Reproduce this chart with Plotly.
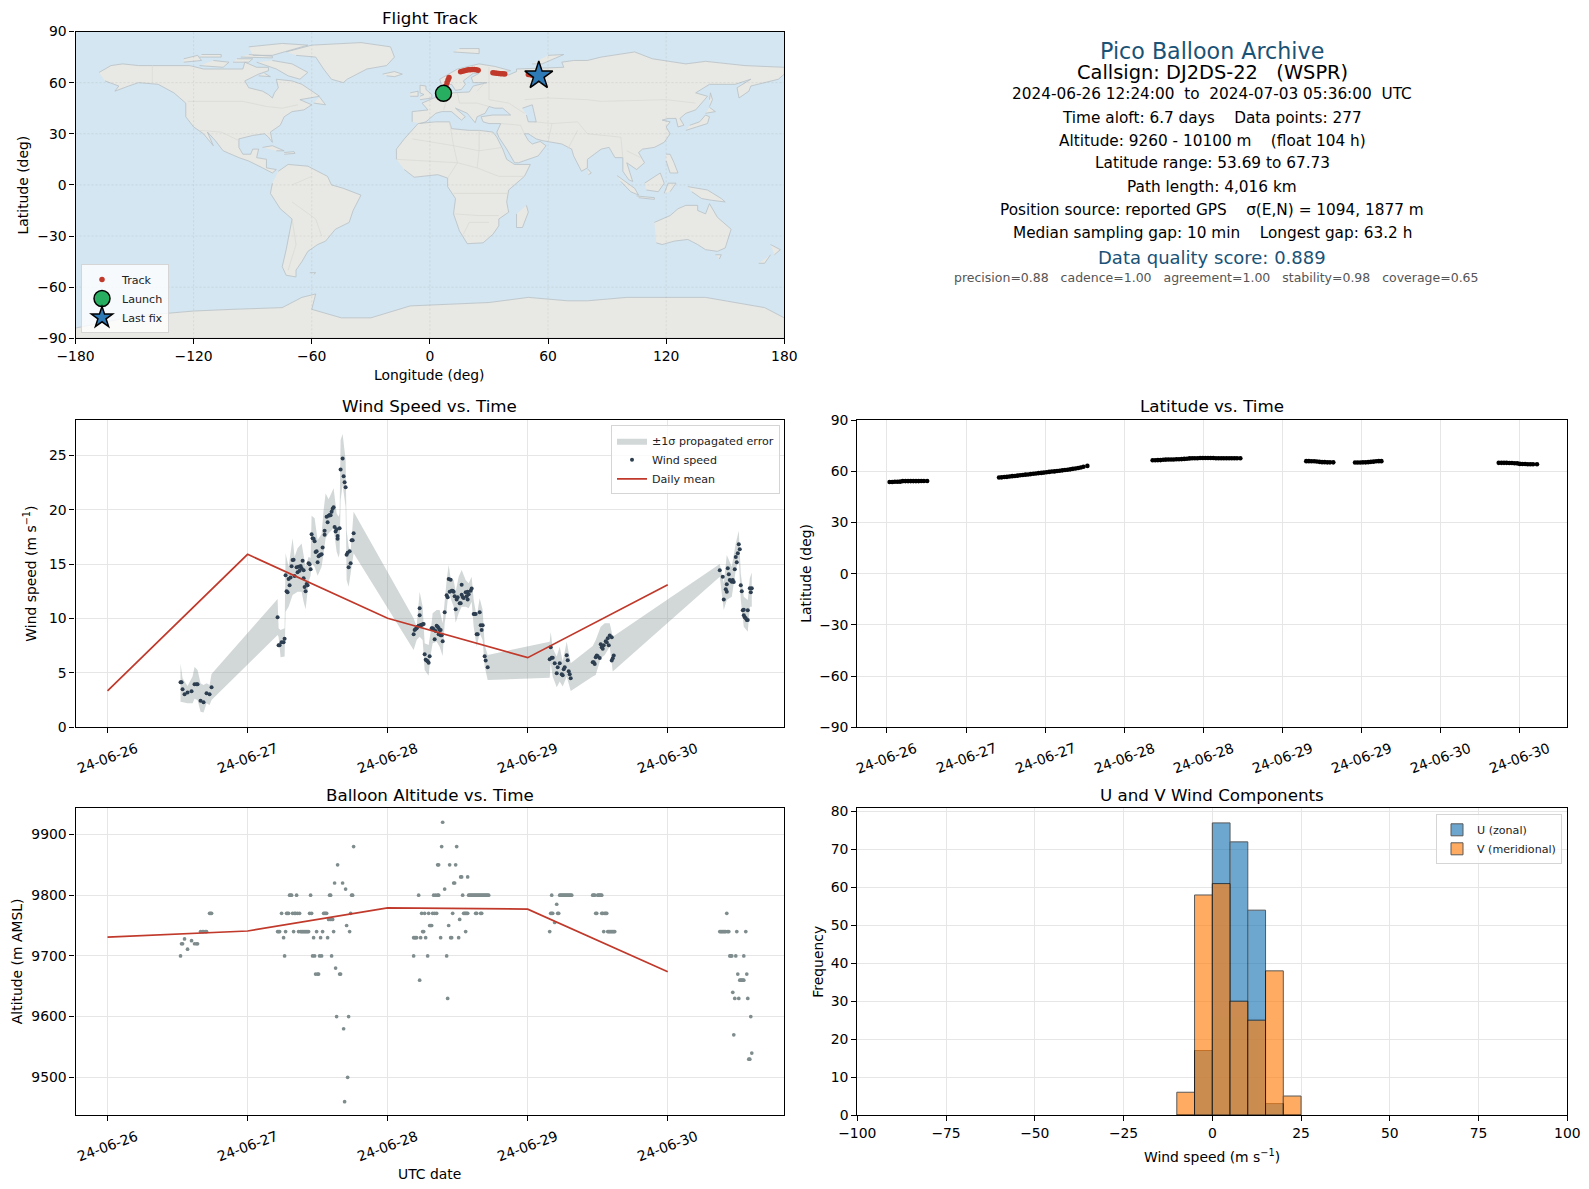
import plotly.graph_objects as go

# the page keeps the browser's 8 px body margin, so the figure is 16 px smaller than the window
PAGE_MARGIN = 8
FIG_W = 1589 - 2 * PAGE_MARGIN
FIG_H = 1189 - 2 * PAGE_MARGIN

# tick labels, the time panels are plotted against sample index / hours
wind_tick_n = [0, 140, 280, 420, 560]
wind_tick_labels = ["24-06-26", "24-06-27", "24-06-28", "24-06-29", "24-06-30"]
lat_tick_h = [0, 12, 24, 36, 48, 60, 72, 84, 96]
lat_tick_labels = ["24-06-26", "24-06-27", "24-06-27", "24-06-28", "24-06-28",
                   "24-06-29", "24-06-29", "24-06-30", "24-06-30"]

wind_n = [73, 74, 75, 77, 80, 84, 87, 89, 90, 93, 96, 99, 102, 104,
          170, 171, 172, 174, 176, 177, 178, 179, 180, 181, 182, 183, 184, 185, 186, 187, 189, 190, 191, 192,
          193, 194, 195, 196, 196, 197, 198, 199, 200, 201, 202, 203, 204, 205, 206, 207, 208, 209, 210, 211,
          212, 213, 214, 215, 217, 217, 219, 220, 221, 222, 223, 224, 225, 226, 227, 228, 229, 230, 230, 232,
          233, 235, 236, 237, 238, 239, 240, 241, 242, 243, 244, 245, 246,
          306, 307, 308, 309, 310, 311, 312, 312, 313, 314, 315, 316, 317, 318, 319, 320, 321, 322, 324, 325,
          326, 327, 328, 329, 330, 331, 331, 332, 333, 333, 334, 335, 337, 339, 340, 341, 342, 343, 344, 345,
          346, 347, 348, 349, 350, 352, 353, 354, 354, 355, 356, 358, 359, 360, 360, 361, 363, 364, 366, 367,
          368, 369, 370, 372, 373, 374, 375, 377, 378, 380,
          442, 443, 444, 445, 447, 449, 450, 452, 454, 455, 456, 457, 459, 460, 461, 462, 463,
          485, 486, 487, 488, 489, 490, 492, 493, 494, 495, 496, 498, 499, 500, 501, 502, 504, 504, 505, 506,
          612, 615, 616, 618, 619, 619, 620, 621, 622, 623, 624, 625, 626, 627, 628, 629, 630, 631, 632, 633,
          634, 635, 636, 636, 637, 638, 639, 640, 640, 642, 643, 644]
wind_speed = [4.14, 4.14, 3.49, 3.03, 3.19, 3.31, 3.95, 3.95, 3.95, 2.45, 2.30, 3.13, 3.03, 3.68,
              10.11, 7.54, 7.54, 7.81, 7.81, 8.15, 13.97, 12.5, 12.41, 13.63, 13.05, 13.76, 14.8, 15.38, 15.41,
              13.91, 14.71, 14.25, 14.77, 14.4, 14.83, 14.61, 15.32, 13.7, 14.43, 12.9, 12.5, 13.17, 13.05, 15.07,
              14.98, 14.52, 17.74, 17.37, 17.34, 17.1, 16.12, 16.18, 15.17, 15.72, 15.81, 15.87, 15.9, 16.54,
              18.08, 17.71, 19.36, 18.84, 19.45, 19.52, 19.49, 19.82, 20.1, 20.22, 18.41, 18.01, 18.2, 17.59,
              17.34, 18.29, 23.71, 24.72, 23.07, 22.52, 22.06, 15.87, 16.05, 14.71, 16.18, 15.07, 17.19, 17.19, 17.83,
              8.55, 8.95, 9.04, 9.1, 9.25, 9.34, 10.29, 10.94, 9.41, 9.41, 9.47, 9.5, 6.71, 6.22, 6.13, 6.07, 5.94,
              6.53, 9.1, 9.1, 9.01, 8.09, 8.85, 9.34, 9.25, 9.13, 8.55, 8.95, 8.95, 8.46, 8.46, 7.9, 10.57, 12.13,
              11.95, 13.63, 12.47, 13.57, 12.56, 12.56, 12.47, 12.04, 10.85, 11.76, 11.95, 11.4, 11.4, 13.11, 12.19,
              11.98, 11.89, 12.41, 12.04, 11.76, 12.47, 12.22, 12.56, 12.75, 10.42, 10.42, 10.42, 8.55, 8.55, 10.57,
              9.38, 8.95, 9.38, 6.53, 6.13, 5.51,
              6.25, 7.35, 6.4, 6.4, 5.88, 4.96, 5.51, 5.88, 4.87, 4.78, 5.33, 5.51, 6.62, 6.16, 5.15, 4.87, 4.5,
              5.97, 5.97, 5.82, 6.43, 6.59, 6.53, 6.37, 7.63, 7.35, 7.23, 7.54, 7.9, 7.81, 8.18, 7.54, 8.43, 8.27,
              6.13, 6.34, 6.59,
              14.43, 13.85, 11.76, 12.68, 12.47, 13.14, 14.61, 14.06, 13.54, 13.48, 13.39, 13.54, 13.36, 14.52, 15.66,
              15.17, 15.99, 16.82, 16.36, 13.05, 12.5, 10.75, 10.81, 10.29, 10.11, 10.02, 9.87, 10.75, 9.87, 12.78,
              12.41, 12.78]

band_n = [73, 75, 80, 85, 87, 90, 93, 96, 99, 102, 104,
          170, 171, 173, 177, 178, 181, 185, 187, 190, 194, 196, 198, 201, 203, 204, 207, 210, 214, 216, 218, 221,
          226, 229, 231, 232, 233, 235, 238, 239, 241, 243, 246,
          306, 309, 312, 315, 317, 321, 323, 325, 329, 332, 335, 337, 339, 341, 343, 346, 348, 351, 354, 358, 361,
          364, 366, 369, 372, 375, 377, 380,
          442, 443, 445, 449, 452, 455, 459, 463,
          485, 488, 493, 497, 502, 505,
          612, 616, 619, 624, 628, 631, 633, 636, 640, 642, 644]
band_hi = [5.88, 4.5, 3.8, 4.66, 5.55, 5.27, 4.04, 3.89, 4.04, 3.89, 4.9,
           11.8, 9.1, 8.95, 9.1, 16.0, 14.77, 17.37, 15.69, 16.45, 16.9, 15.84, 14.77, 15.69, 15.53, 19.45, 19.21,
           17.22, 17.77, 19.98, 21.5, 20.96, 21.97, 19.67, 19.36, 19.67, 26.41, 26.96, 24.57, 18.14, 16.6, 16.15, 19.82,
           10.02, 9.25, 12.47, 11.09, 7.72, 7.57, 8.79, 10.48, 10.78, 10.78, 9.56, 11.7, 13.54, 14.92, 13.7, 13.54,
           12.47, 13.85, 14.46, 13.54, 13.24, 13.85, 11.7, 10.17, 11.86, 10.78, 7.57, 6.65,
           7.87, 8.79, 7.26, 6.5, 7.41, 6.04, 7.87, 5.88,
           7.48, 8.03, 9.25, 9.56, 9.56, 8.33,
           15.01, 13.24, 15.84, 14.77, 16.91, 18.08, 14.15, 12.0, 11.7, 13.7, 14.22]
band_lo = [2.36, 2.27, 2.2, 2.2, 2.63, 2.5, 1.44, 1.35, 2.2, 2.05, 2.5,
           8.49, 8.33, 6.43, 6.5, 10.63, 11.09, 12.16, 12.32, 12.47, 12.47, 11.55, 10.85, 13.39, 13.94, 15.07, 14.77,
           13.94, 14.77, 16.0, 17.37, 17.83, 18.29, 16.15, 15.6, 16.0, 20.89, 22.27, 20.28, 13.54, 12.93, 14.15, 16.0,
           7.11, 8.03, 8.33, 8.03, 5.27, 4.75, 6.65, 7.72, 7.87, 7.41, 6.56, 9.56, 10.78, 12.62, 11.86, 11.09, 9.62,
           10.48, 11.09, 11.09, 10.94, 11.55, 9.25, 7.41, 8.64, 8.03, 5.58, 4.35,
           4.56, 5.88, 4.66, 3.68, 4.2, 3.74, 4.66, 3.34,
           4.66, 4.81, 6.34, 6.65, 7.41, 5.12,
           13.85, 10.78, 11.7, 12.0, 14.46, 15.53, 11.7, 9.25, 8.79, 11.09, 11.09]

daily_wind = [3.35, 15.9, 10.02, 6.4, 13.11]
daily_alt = [9731, 9741, 9779, 9777, 9674]

alt_n = [73, 74, 75, 77, 80, 84, 87, 89, 90, 93, 95, 96, 98, 99, 102, 103, 104,
         170, 171, 172, 174, 176, 177, 178, 179, 180, 181, 182, 183, 184, 185, 186, 187, 188, 189, 190, 191, 192,
         193, 194, 195, 196, 197, 198, 199, 200, 201, 202, 203, 204, 205, 206, 207, 208, 209, 210, 211, 212, 213,
         214, 215, 216, 217, 218, 219, 220, 221, 222, 223, 223, 224, 225, 226, 227, 228, 229, 230, 232, 233, 235,
         236, 237, 238, 239, 240, 241, 242, 243, 244, 245, 246,
         306, 306, 307, 308, 309, 311, 312, 313, 314, 315, 316, 317, 318, 320, 321, 322, 323, 324, 325, 326, 327,
         328, 329, 330, 330, 331, 331, 333, 334, 335, 337, 339, 340, 341, 342, 343, 344, 345, 346, 347, 348, 349,
         351, 352, 353, 354, 355, 356, 357, 358, 358, 359, 360, 360, 361, 362, 363, 364, 365, 366, 367, 368, 369,
         370, 371, 372, 373, 374, 375, 376, 377, 378, 379, 380, 381, 368, 369, 373, 374,
         442, 443, 444, 444, 445, 447, 449, 450, 451, 452, 453, 454, 455, 456, 457, 458, 459, 460, 461, 462, 463, 464,
         485, 486, 487, 488, 489, 490, 491, 492, 493, 494, 494, 495, 496, 497, 498, 499, 500, 501, 502, 503, 504,
         505, 506, 507,
         612, 613, 614, 615, 616, 617, 618, 619, 620, 621, 622, 623, 624, 625, 626, 627, 628, 629, 630, 631, 632,
         633, 634, 635, 636, 636, 638, 639, 640, 641, 642, 643, 644]
alt_m = [9700, 9720, 9720, 9728, 9711, 9725, 9720, 9720, 9720, 9740, 9740, 9740, 9740, 9740, 9770, 9770, 9770,
         9740, 9740, 9740, 9770, 9730, 9700, 9740, 9770, 9770, 9770, 9800, 9800, 9800, 9770, 9740, 9770, 9770, 9800,
         9770, 9740, 9770, 9740, 9740, 9740, 9740, 9740, 9740, 9740, 9740, 9740, 9770, 9800, 9770, 9700, 9730, 9700,
         9670, 9740, 9670, 9670, 9700, 9730, 9700, 9740, 9770, 9770, 9770, 9770, 9730, 9760, 9800, 9800, 9760, 9700,
         9760, 9740, 9820, 9680, 9600, 9850, 9670, 9670, 9820, 9580, 9460, 9810, 9750, 9500, 9600, 9740, 9770, 9800,
         9800, 9880,
         9700, 9730, 9730, 9730, 9730, 9800, 9660, 9730, 9770, 9740, 9740, 9770, 9730, 9700, 9770, 9750, 9750, 9750,
         9770, 9800, 9770, 9800, 9770, 9800, 9850, 9800, 9850, 9730, 9880, 9920, 9810, 9700, 9630, 9750, 9850, 9730,
         9730, 9770, 9820, 9820, 9850, 9880, 9730, 9760, 9830, 9830, 9800, 9770, 9770, 9740, 9770, 9770, 9830, 9770,
         9800, 9800, 9800, 9800, 9800, 9800, 9800, 9800, 9800, 9800, 9800, 9800, 9800, 9800, 9800, 9800, 9800, 9800,
         9800, 9800, 9800, 9770, 9770, 9770, 9770,
         9740, 9770, 9800, 9770, 9770, 9755, 9785, 9770, 9770, 9800, 9800, 9800, 9800, 9800, 9800, 9800, 9800, 9800,
         9800, 9800, 9800, 9800,
         9800, 9800, 9800, 9770, 9770, 9800, 9800, 9800, 9800, 9800, 9770, 9770, 9740, 9770, 9770, 9770, 9740, 9740,
         9740, 9740, 9740, 9740, 9740, 9740,
         9740, 9740, 9740, 9740, 9740, 9740, 9740, 9770, 9740, 9740, 9700, 9700, 9700, 9640, 9570, 9630, 9700, 9740,
         9670, 9630, 9660, 9660, 9660, 9660, 9660, 9700, 9740, 9670, 9630, 9530, 9530, 9600, 9540]

lat_hours = [0.4, 0.8, 1.2, 1.6, 2.0, 2.4, 2.8, 3.2, 3.6, 4.0, 4.4, 4.8, 5.2, 5.6, 6.1,
             17.0, 17.4, 17.8, 18.2, 18.6, 19.0, 19.4, 19.8, 20.2, 20.6, 21.0, 21.4, 21.8, 22.2, 22.6, 23.0, 23.4,
             23.8, 24.2, 24.6, 25.0, 25.4, 25.8, 26.2, 26.6, 27.0, 27.4, 27.8, 28.2, 28.6, 29.0, 29.4, 29.8, 30.4,
             40.3, 40.7, 41.1, 41.5, 41.9, 42.3, 42.7, 43.1, 43.5, 43.9, 44.3, 44.7, 45.1, 45.5, 45.9, 46.3, 46.7,
             47.1, 47.5, 47.9, 48.3, 48.7, 49.1, 49.5, 49.9, 50.3, 50.7, 51.1, 51.5, 51.9, 52.3, 52.7, 53.1, 53.6,
             63.6, 64.0, 64.4, 64.8, 65.2, 65.6, 66.0, 66.4, 66.8, 67.2, 67.7,
             71.0, 71.4, 71.8, 72.2, 72.6, 73.0, 73.4, 73.8, 74.2, 74.6, 75.0,
             92.8, 93.2, 93.6, 94.0, 94.4, 94.8, 95.2, 95.6, 96.0, 96.4, 96.8, 97.2, 97.6, 98.0, 98.6]
lat_deg = [53.7, 53.7, 53.8, 53.8, 53.9, 54.2, 54.2, 54.2, 54.2, 54.2, 54.2, 54.2, 54.3, 54.3, 54.3,
           56.3, 56.4, 56.6, 56.7, 56.9, 57.1, 57.2, 57.4, 57.6, 57.8, 58.0, 58.1, 58.3, 58.5, 58.7, 58.9, 59.0,
           59.2, 59.4, 59.6, 59.8, 59.9, 60.1, 60.3, 60.5, 60.7, 60.9, 61.1, 61.4, 61.6, 61.9, 62.2, 62.6, 63.1,
           66.4, 66.4, 66.5, 66.5, 66.7, 66.8, 66.9, 66.9, 66.9, 67.0, 67.0, 67.1, 67.2, 67.3, 67.5, 67.6, 67.6,
           67.6, 67.7, 67.7, 67.7, 67.7, 67.7, 67.7, 67.6, 67.6, 67.6, 67.6, 67.6, 67.6, 67.6, 67.6, 67.6, 67.6,
           65.9, 65.9, 65.8, 65.8, 65.7, 65.5, 65.3, 65.3, 65.2, 65.2, 65.2,
           65.1, 65.1, 65.1, 65.2, 65.2, 65.3, 65.5, 65.6, 65.8, 65.9, 65.9,
           64.9, 64.9, 64.9, 64.9, 64.8, 64.8, 64.7, 64.6, 64.3, 64.2, 64.2, 64.1, 64.1, 64.1, 64.1]

hist_edges = [-10, -5, 0, 5, 10, 15, 20]
hist_u = [0, 17, 77, 72, 54, 3, 0]
hist_v = [6, 58, 61, 30, 25, 38, 5]

track_lon = [6.9, 7.1, 7.3, 7.8, 8.2, 8.7, 9.2, 9.7,
             15.6, 16.5, 17.5, 18.5, 19.5, 20.5, 21.5, 22.5, 23.5, 24.5,
             32, 33, 34, 35, 36, 37, 38, 50, 51, 52, 53]
track_lat = [53.7, 54.0, 54.3, 56.3, 58.0, 60.0, 61.5, 63.0,
             66.4, 66.7, 67.0, 67.3, 67.5, 67.6, 67.7, 67.7, 67.5, 67.2,
             65.8, 65.6, 65.5, 65.3, 65.2, 65.2, 65.1, 64.8, 64.6, 64.3, 64.0]
launch_lon, launch_lat = [6.9], [53.7]
last_lon, last_lat = [55.3], [64.1]

# rough coastlines (lon, lat)
north_america = [(-168, 66), (-165, 68), (-162, 70), (-156, 71), (-148, 70), (-141, 70), (-128, 70), (-122, 70),
                 (-115, 68), (-108, 68), (-95, 68), (-94, 72), (-88, 69), (-82, 69), (-82, 67), (-87, 65), (-94, 61),
                 (-92, 57), (-85, 55), (-82, 53), (-80, 51), (-79, 54), (-77, 57), (-78, 62), (-70, 61), (-65, 59),
                 (-61, 56), (-56, 52), (-66, 50), (-60, 47), (-64, 44), (-70, 43), (-74, 40), (-76, 35), (-81, 31),
                 (-80, 25), (-82, 28), (-84, 30), (-90, 29), (-97, 27), (-97, 22), (-95, 18), (-91, 18), (-90, 21),
                 (-87, 21), (-88, 16), (-83, 15), (-83, 10), (-78, 9), (-80, 7), (-85, 10), (-92, 14), (-97, 16),
                 (-105, 20), (-109, 26), (-113, 31), (-110, 23), (-115, 30), (-120, 34), (-124, 40), (-124, 48),
                 (-130, 54), (-138, 59), (-148, 60), (-153, 58), (-160, 55), (-158, 58), (-165, 61)]
greenland = [(-73, 78), (-60, 82), (-35, 83.5), (-20, 81), (-18, 75), (-22, 70), (-32, 68), (-42, 62), (-44, 60),
             (-50, 62), (-54, 68), (-58, 75), (-68, 76)]
baffin = [(-80, 73), (-70, 71), (-62, 66), (-66, 62), (-72, 64), (-78, 68), (-88, 72)]
victoria = [(-117, 70), (-105, 69), (-102, 72), (-110, 73)]
ellesmere = [(-90, 76), (-80, 76), (-62, 82), (-75, 83), (-92, 81)]
banks = [(-125, 72), (-116, 73), (-118, 76), (-125, 74)]
melville = [(-117, 75), (-106, 75), (-106, 76.5), (-116, 76.5)]
devon = [(-96, 75), (-80, 74.5), (-80, 75.5), (-92, 76.5)]
somerset = [(-100, 72), (-92, 72), (-90, 74), (-98, 74)]
southampton = [(-87, 64), (-81, 63.5), (-84, 65.5)]
newfoundland = [(-59, 48), (-53, 47), (-56, 51.5)]
cuba = [(-85, 22), (-80, 23), (-74, 20), (-78, 20)]
hispaniola = [(-74, 19), (-69, 19.5), (-68.5, 18.5), (-74, 18)]
iceland = [(-24, 65), (-18, 66.5), (-14, 65), (-18, 63.5), (-22, 64)]
south_america = [(-77, 8), (-72, 12), (-62, 11), (-52, 5), (-50, 0), (-44, -2), (-35, -6), (-39, -15), (-41, -22),
                 (-48, -26), (-53, -33), (-57, -35), (-62, -39), (-65, -45), (-68, -50), (-68, -54), (-73, -53),
                 (-75, -48), (-73, -38), (-70, -20), (-76, -14), (-81, -5), (-80, 1)]
africa = [(-17, 15), (-17, 21), (-13, 27), (-9, 32), (-6, 36), (3, 37), (10, 37), (11, 33), (20, 32), (25, 32),
          (32, 31), (34, 28), (37, 21), (39, 15), (43, 12), (51, 12), (48, 5), (40, -3), (39, -10), (40, -16),
          (35, -20), (35, -24), (32, -29), (27, -34), (19, -34.5), (15, -27), (12, -17), (13, -8), (9, -1), (9, 4),
          (4, 6), (-4, 5), (-8, 4.5), (-13, 9)]
eurasia = [(-9, 37), (-9, 43), (-1, 44), (-4, 48), (2, 51), (8, 54), (8, 57), (11, 56), (11, 54), (20, 54.5),
           (22, 58), (29, 60), (22, 60), (21, 63), (25, 65.5), (22, 65.5), (17, 61), (18, 59), (16, 56), (13, 55.5),
           (11, 59), (6, 58), (5, 62), (14, 68), (25, 71), (33, 69.5), (41, 67), (35, 66), (40, 64.5), (44, 66.5),
           (44, 68), (54, 68.5), (60, 69), (68, 69), (67, 72), (73, 73), (80, 73), (87, 75), (104, 78), (113, 74),
           (130, 71), (140, 72.5), (160, 70), (180, 69), (180, 65), (177, 62), (170, 60), (163, 58), (162, 55),
           (157, 51), (156, 57), (163, 62), (155, 59), (142, 59), (135, 54), (141, 52), (135, 44), (130, 42),
           (127, 39), (129, 35), (126, 34), (125, 39), (121, 39), (118, 38), (122, 37), (120, 34), (122, 30),
           (119, 25), (114, 22), (108, 21), (106, 19), (109, 13), (105, 9), (100, 13), (103, 2), (101, 3), (98, 8),
           (98, 16), (94, 16), (91, 22), (87, 21), (80, 15), (80, 10), (77, 8), (73, 17), (72, 21), (67, 24),
           (61, 25), (57, 26), (54, 27), (50, 30), (48, 30), (50, 26), (52, 24), (56, 25.5), (59, 23), (55, 17),
           (45, 13), (43, 13), (39, 21), (35, 28), (34, 31), (36, 36), (30, 36), (27, 37), (26, 40), (32, 41),
           (41, 41), (37, 45), (33, 45), (30, 46), (28, 42), (24, 40), (23, 36.5), (19, 42), (13, 45), (18, 40),
           (16, 38), (11, 43), (6, 43), (3, 42), (0, 39), (-2, 37), (-5, 36)]
britain = [(-5, 50), (1, 51), (1, 53), (-2, 56), (-2, 58), (-5, 58.5), (-5, 54), (-3, 53), (-5, 52)]
ireland = [(-10, 52), (-6, 52), (-6, 55), (-10, 54)]
svalbard = [(12, 78), (25, 77), (25, 80), (15, 80)]
novaya = [(52, 71), (57, 71), (68, 76.5), (60, 76)]
honshu = [(130, 32), (136, 34), (141, 36), (142, 40), (140, 41), (137, 37), (132, 35)]
hokkaido = [(140, 42), (145, 43), (142, 45.5)]
sakhalin = [(142, 46), (143.5, 50), (142.5, 54), (142, 50)]
philippines = [(120, 18), (122, 18), (124, 13), (126, 7), (122, 7), (120, 14)]
sumatra = [(95, 5.5), (104, -2), (106, -6), (102, -4), (97, 2)]
java = [(105, -6.5), (114, -7.5), (114, -8.5), (106, -7.5)]
borneo = [(109, 1), (117, 7), (119, 1), (116, -4), (110, -3)]
sulawesi = [(119, -5), (121, 1), (125, 1), (122, -4)]
new_guinea = [(131, -1), (141, -3), (148, -8), (150, -10), (143, -9), (138, -8), (133, -4)]
sri_lanka = [(80, 9.5), (82, 7), (80.5, 6)]
madagascar = [(49, -12), (50, -16), (47, -25), (44, -25), (44, -17)]
australia = [(114, -22), (122, -18), (126, -14), (130, -12), (136, -12), (136, -15), (140, -17), (142, -11),
             (146, -19), (153, -26), (150, -37), (146, -39), (140, -38), (136, -35), (131, -32), (124, -33),
             (118, -35), (115, -34)]
tasmania = [(145, -41), (148, -41), (147, -43.5)]
nz_north = [(173, -35), (178, -38), (175, -41)]
nz_south = [(173, -41), (170, -46), (167, -46)]
falklands = [(-61, -51.5), (-58, -51.5), (-59, -52.5)]
antarctica = [(-180, -90), (180, -90), (180, -78), (170, -72), (160, -70), (140, -66), (120, -66), (100, -66),
              (80, -68), (70, -68), (50, -66), (30, -69), (10, -70), (-10, -71), (-30, -78), (-45, -78), (-60, -73),
              (-58, -64), (-65, -66), (-75, -72), (-100, -73), (-120, -74), (-150, -77), (-180, -84)]
caspian = [(47, 45), (52, 47), (53, 42), (54, 37), (50, 37), (49, 41)]

land_polys = [north_america, greenland, baffin, victoria, ellesmere, banks, melville, devon, somerset, southampton,
              newfoundland, cuba, hispaniola, iceland, south_america, africa, eurasia, britain, ireland, svalbard,
              novaya, honshu, hokkaido, sakhalin, philippines, sumatra, java, borneo, sulawesi, new_guinea, sri_lanka,
              madagascar, australia, tasmania, nz_north, nz_south, falklands, antarctica]

borders = [[(-141, 70), (-141, 60)], [(-123, 49), (-95, 49), (-83, 46), (-75, 45), (-67, 47)],
           [(-117, 32), (-106, 31), (-97, 26)], [(-70, -20), (-68, -35), (-72, -50)], [(-70, 0), (-60, 5)],
           [(-70, -10), (-58, -20), (-55, -30)], [(-9, 27), (12, 23), (25, 20), (37, 22)], [(25, 32), (25, 20), (24, 10)],
           [(10, 37), (12, 23), (14, 13), (9, 4)], [(-17, 15), (14, 13), (24, 10), (35, 5), (48, 5)],
           [(12, -5), (30, -5), (40, -5)], [(12, -17), (25, -18), (35, -18)], [(17, -29), (20, -22), (30, -22)],
           [(2, 51), (8, 48), (7, 44)], [(14, 54), (15, 48), (24, 48), (30, 46)], [(24, 55), (28, 60)],
           [(30, 69), (30, 50), (40, 48), (48, 42)], [(48, 50), (60, 51), (80, 50), (87, 49), (120, 50), (135, 48)],
           [(53, 37), (62, 36), (75, 37), (80, 30), (97, 28)], [(60, 25), (62, 36)], [(36, 36), (46, 35), (48, 30)],
           [(70, 21), (75, 32)], [(97, 28), (98, 16)], [(100, 20), (107, 16)]]


def px_x(p):
    return (p - PAGE_MARGIN) / FIG_W


def px_y(p):
    return 1 - (p - PAGE_MARGIN) / FIG_H


def dom_x(a, b):
    return [px_x(a), px_x(b)]


def dom_y(top, bottom):
    return [px_y(bottom), px_y(top)]


def split_xy(polys):
    xs, ys = [], []
    for poly in polys:
        xs += [p[0] for p in poly] + [None]
        ys += [p[1] for p in poly] + [None]
    return xs, ys


LEFT = (75.5, 784.3)
RIGHT = (857.3, 1567.3)
ROW1 = (31.5, 338.3)
ROW2 = (420.0, 727.3)
ROW3 = (808.3, 1115.0)

GRID = "#e6e6e6"
FONT = "DejaVu Sans"

fig = go.Figure()

# map panel
land_x, land_y = split_xy(land_polys)
fig.add_trace(go.Scatter(x=land_x, y=land_y, mode="lines", fill="toself", fillcolor="#e8e8e4",
                         line=dict(color="#b8c0c5", width=0.8), showlegend=False, hoverinfo="skip",
                         xaxis="x", yaxis="y"))
border_x, border_y = split_xy(borders)
fig.add_trace(go.Scatter(x=border_x, y=border_y, mode="lines", line=dict(color="#d8d8d4", width=0.7),
                         showlegend=False, hoverinfo="skip", xaxis="x", yaxis="y"))
sea_x, sea_y = split_xy([caspian])
fig.add_trace(go.Scatter(x=sea_x, y=sea_y, mode="lines", fill="toself", fillcolor="#d4e6f1",
                         line=dict(color="#b8c0c5", width=0.8), showlegend=False, hoverinfo="skip",
                         xaxis="x", yaxis="y"))
fig.add_trace(go.Scatter(x=track_lon, y=track_lat, mode="markers", name="Track",
                         marker=dict(color="#c0392b", size=5.5), xaxis="x", yaxis="y", legend="legend"))
fig.add_trace(go.Scatter(x=launch_lon, y=launch_lat, mode="markers", name="Launch",
                         marker=dict(color="#27ae60", size=16, line=dict(color="black", width=1.5)),
                         xaxis="x", yaxis="y", legend="legend"))
fig.add_trace(go.Scatter(x=last_lon, y=last_lat, mode="markers", name="Last fix",
                         marker=dict(color="#2e7ab6", size=21, symbol="star", line=dict(color="black", width=1.5)),
                         xaxis="x", yaxis="y", legend="legend"))

# wind speed panel
fig.add_trace(go.Scatter(x=band_n + band_n[::-1], y=band_hi + band_lo[::-1], mode="lines", fill="toself",
                         fillcolor="rgba(127,140,141,0.35)", line=dict(width=0), name="±1σ propagated error",
                         xaxis="x2", yaxis="y2", legend="legend2", hoverinfo="skip"))
fig.add_trace(go.Scatter(x=wind_n, y=wind_speed, mode="markers", name="Wind speed",
                         marker=dict(color="#2c3e50", size=4), xaxis="x2", yaxis="y2", legend="legend2"))
fig.add_trace(go.Scatter(x=wind_tick_n, y=daily_wind, mode="lines", name="Daily mean",
                         line=dict(color="#c0392b", width=1.7), xaxis="x2", yaxis="y2", legend="legend2"))

# latitude panel
fig.add_trace(go.Scatter(x=lat_hours, y=lat_deg, mode="markers", marker=dict(color="black", size=4.6),
                         showlegend=False, xaxis="x3", yaxis="y3"))

# altitude panel
fig.add_trace(go.Scatter(x=alt_n, y=alt_m, mode="markers", marker=dict(color="#7f8c8d", size=3.7),
                         showlegend=False, xaxis="x4", yaxis="y4"))
fig.add_trace(go.Scatter(x=wind_tick_n, y=daily_alt, mode="lines", line=dict(color="#c0392b", width=1.7),
                         showlegend=False, xaxis="x4", yaxis="y4"))

# histogram panel
fig.add_trace(go.Bar(x=hist_edges, y=hist_u, width=5, offset=0, name="U (zonal)",
                     marker=dict(color="#1f77b4", line=dict(color="black", width=1)), opacity=0.65,
                     xaxis="x5", yaxis="y5", legend="legend3"))
fig.add_trace(go.Bar(x=hist_edges, y=hist_v, width=5, offset=0, name="V (meridional)",
                     marker=dict(color="#ff7f0e", line=dict(color="black", width=1)), opacity=0.65,
                     xaxis="x5", yaxis="y5", legend="legend3"))


def axis(domain, rng, anchor, **kw):
    base = dict(domain=domain, range=rng, anchor=anchor, automargin=False, showline=True, mirror=True,
                linecolor="black", linewidth=1.1, ticks="outside", ticklen=5, tickwidth=1.1, tickcolor="black",
                gridcolor=GRID, gridwidth=1.1, zeroline=False,
                tickfont=dict(size=13.9, color="black", family=FONT), layer="above traces")
    base.update(kw)
    return base


def legend_box(x, y, xanchor, yanchor):
    return dict(x=x, y=y, xanchor=xanchor, yanchor=yanchor, bgcolor="rgba(255,255,255,0.8)",
                bordercolor="#d5d5d5", borderwidth=1, font=dict(size=11.1, color="#222222", family=FONT),
                tracegroupgap=0, itemsizing="trace", itemwidth=30)


fig.update_layout(
    width=FIG_W, height=FIG_H, autosize=False,
    margin=dict(l=0, r=0, t=0, b=0),
    paper_bgcolor="white", plot_bgcolor="white",
    font=dict(family=FONT, color="black"),
    barmode="overlay",
    xaxis=axis(dom_x(*LEFT), [-180, 180], "y", tickvals=[-180, -120, -60, 0, 60, 120, 180], showgrid=False),
    yaxis=axis(dom_y(*ROW1), [-90, 90], "x", tickvals=[-90, -60, -30, 0, 30, 60, 90], showgrid=False),
    xaxis2=axis(dom_x(*LEFT), [-32, 676.5], "y2", tickvals=wind_tick_n, showticklabels=False),
    yaxis2=axis(dom_y(*ROW2), [0, 28.25], "x2", tickvals=[0, 5, 10, 15, 20, 25]),
    xaxis3=axis(dom_x(*RIGHT), [-4.5, 103.2], "y3", tickvals=lat_tick_h, showticklabels=False),
    yaxis3=axis(dom_y(*ROW2), [-90, 90], "x3", tickvals=[-90, -60, -30, 0, 30, 60, 90]),
    xaxis4=axis(dom_x(*LEFT), [-32, 676.5], "y4", tickvals=wind_tick_n, showticklabels=False),
    yaxis4=axis(dom_y(*ROW3), [9438, 9943], "x4", tickvals=[9500, 9600, 9700, 9800, 9900], tickformat="d"),
    xaxis5=axis(dom_x(*RIGHT), [-100, 100], "y5", tickvals=[-100, -75, -50, -25, 0, 25, 50, 75, 100]),
    yaxis5=axis(dom_y(*ROW3), [0, 80.85], "x5", tickvals=[0, 10, 20, 30, 40, 50, 60, 70, 80]),
    legend=legend_box(px_x(81), px_y(333), "left", "bottom"),
    legend2=legend_box(px_x(780), px_y(425.3), "right", "top"),
    legend3=legend_box(px_x(1562), px_y(814.3), "right", "top"),
)

# ocean background and the dashed map grid
fig.add_shape(type="rect", xref="x", yref="y", x0=-180, x1=180, y0=-90, y1=90, fillcolor="#d4e6f1",
              line_width=0, layer="below")
for lon in [-120, -60, 0, 60, 120]:
    fig.add_shape(type="line", xref="x", yref="y", x0=lon, x1=lon, y0=-90, y1=90,
                  line=dict(color="rgba(150,150,150,0.3)", width=0.6, dash="2px,2px"))
for lat in [-60, -30, 0, 30, 60]:
    fig.add_shape(type="line", xref="x", yref="y", x0=-180, x1=180, y0=lat, y1=lat,
                  line=dict(color="rgba(150,150,150,0.3)", width=0.6, dash="2px,2px"))


def text(x, y, s, size, color="black", angle=0):
    fig.add_annotation(x=px_x(x), y=px_y(y), xref="paper", yref="paper", text=s, showarrow=False,
                       xanchor="center", yanchor="middle", textangle=angle,
                       font=dict(size=size, color=color, family=FONT))


# panel titles and axis titles
lc = sum(LEFT) / 2
rc = sum(RIGHT) / 2
text(lc, 18, "Flight Track", 16.7)
text(lc, 405.5, "Wind Speed vs. Time", 16.7)
text(rc, 405.5, "Latitude vs. Time", 16.7)
text(lc, 795, "Balloon Altitude vs. Time", 16.7)
text(rc, 795, "U and V Wind Components", 16.7)
text(lc, 375, "Longitude (deg)", 13.9)
text(22.5, (ROW1[0] + ROW1[1]) / 2, "Latitude (deg)", 13.9, angle=-90)
text(30, (ROW2[0] + ROW2[1]) / 2, "Wind speed (m s<sup>−1</sup>)", 13.9, angle=-90)
text(806, (ROW2[0] + ROW2[1]) / 2, "Latitude (deg)", 13.9, angle=-90)
text(16.5, (ROW3[0] + ROW3[1]) / 2, "Altitude (m AMSL)", 13.9, angle=-90)
text(818, (ROW3[0] + ROW3[1]) / 2, "Frequency", 13.9, angle=-90)
text(lc, 1174, "UTC date", 13.9)
text(rc, 1156, "Wind speed (m s<sup>−1</sup>)", 13.9)

# rotated date labels, centred under their ticks
for n, lab in zip(wind_tick_n, wind_tick_labels):
    for xref, yy in (("x2", ROW2[1] + 31), ("x4", ROW3[1] + 31)):
        fig.add_annotation(x=n, y=px_y(yy), xref=xref, yref="paper", text=lab, showarrow=False, textangle=-20,
                           xanchor="center", yanchor="middle", font=dict(size=13.9, color="black", family=FONT))
for h, lab in zip(lat_tick_h, lat_tick_labels):
    fig.add_annotation(x=h, y=px_y(ROW2[1] + 31), xref="x3", yref="paper", text=lab, showarrow=False, textangle=-20,
                       xanchor="center", yanchor="middle", font=dict(size=13.9, color="black", family=FONT))

# summary block
text(rc, 51, "Pico Balloon Archive", 22.2, "#1a5276")
text(rc, 73, "Callsign: DJ2DS-22   (WSPR)", 19.4)
text(rc, 94.5, "2024-06-26 12:24:00  to  2024-07-03 05:36:00  UTC", 15.3)
text(rc, 118, "Time aloft: 6.7 days    Data points: 277", 15.3)
text(rc, 141, "Altitude: 9260 - 10100 m    (float 104 h)", 15.3)
text(rc, 163.5, "Latitude range: 53.69 to 67.73", 15.3)
text(rc, 187, "Path length: 4,016 km", 15.3)
text(rc, 210, "Position source: reported GPS    σ(E,N) = 1094, 1877 m", 15.3)
text(rc, 233.5, "Median sampling gap: 10 min    Longest gap: 63.2 h", 15.3)
text(rc, 258, "Data quality score: 0.889", 18, "#1a5276")
text(rc + 4, 278, "precision=0.88   cadence=1.00   agreement=1.00   stability=0.98   coverage=0.65", 12.5, "#555555")

fig.write_html("out.html")
